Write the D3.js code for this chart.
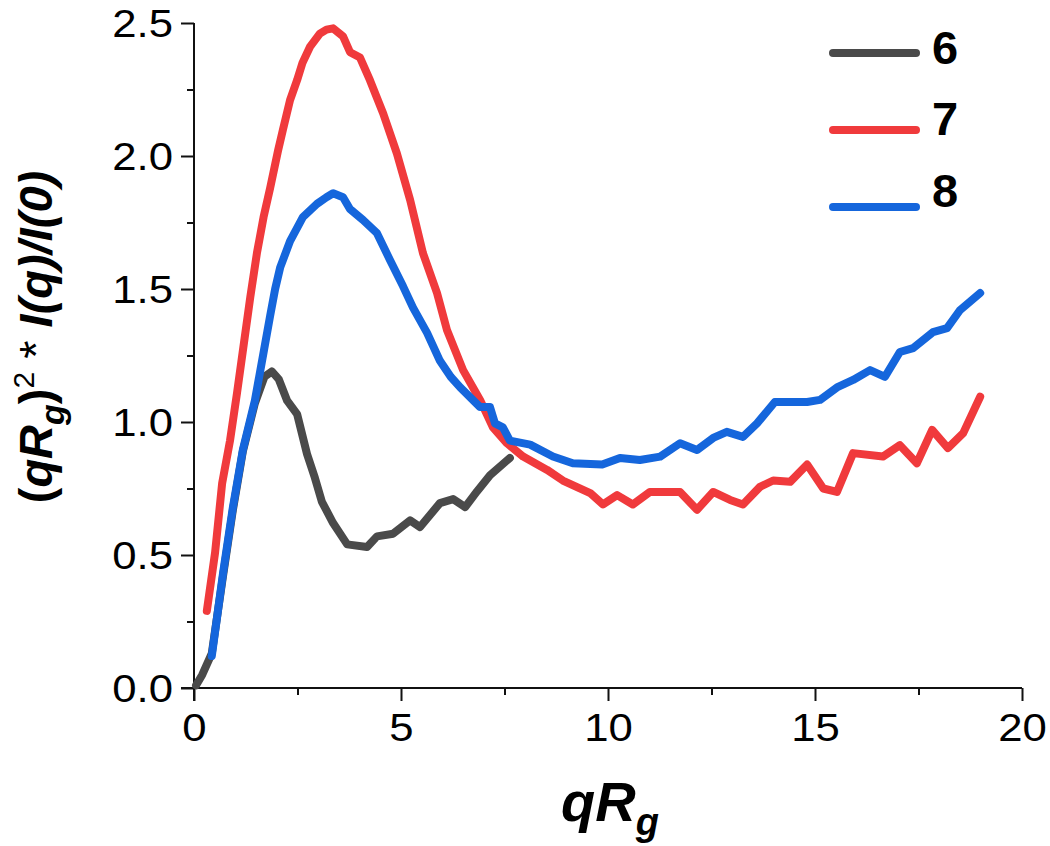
<!DOCTYPE html>
<html>
<head>
<meta charset="utf-8">
<script src="https://cdn.jsdelivr.net/npm/d3@7"></script>
<style>
  html, body { margin: 0; padding: 0; background: #fff; }
  svg { display: block; font-family: "Liberation Sans", Arial, sans-serif; }
</style>
</head>
<body>
<svg id="chart" width="1050" height="846"></svg>
<script>
// ---- data ----
const series6X = [0.05,0.2,0.43,0.7,0.94,1.18,1.47,1.7,1.88,2.05,2.25,2.49,2.73,2.92,3.09,3.36,3.7,4.18,4.42,4.81,5.22,5.46,5.94,6.26,6.55,6.84,7.15,7.63];
const series6Y = [0.01,0.05,0.13,0.42,0.67,0.89,1.07,1.17,1.19,1.16,1.08,1.03,0.88,0.79,0.7,0.62,0.54,0.53,0.57,0.58,0.63,0.605,0.695,0.71,0.68,0.74,0.8,0.865];

const series7X = [0.31,0.51,0.68,0.87,1.04,1.2,1.36,1.52,1.68,1.84,2.03,2.15,2.32,2.49,2.62,2.8,3.04,3.2,3.36,3.6,3.77,4.01,4.25,4.57,4.9,5.22,5.53,5.87,6.11,6.5,6.91,7.22,7.56,7.95,8.53,8.91,9.57,9.88,10.22,10.6,11.01,11.74,12.15,12.54,12.95,13.26,13.67,13.99,14.4,14.81,15.2,15.53,15.92,16.64,17.05,17.46,17.83,18.21,18.58,18.99];
const series7Y = [0.29,0.51,0.77,0.93,1.11,1.29,1.47,1.635,1.77,1.88,2.02,2.1,2.21,2.285,2.35,2.41,2.46,2.475,2.48,2.45,2.39,2.37,2.285,2.16,2.01,1.835,1.635,1.485,1.346,1.195,1.083,0.98,0.92,0.87,0.82,0.78,0.733,0.69,0.725,0.69,0.737,0.737,0.67,0.737,0.707,0.69,0.756,0.78,0.775,0.84,0.75,0.737,0.883,0.87,0.913,0.845,0.97,0.902,0.958,1.095];

const series8X = [0.43,0.7,0.94,1.18,1.47,1.69,1.84,1.96,2.08,2.32,2.63,2.97,3.2,3.36,3.6,3.77,4.08,4.42,4.73,5.05,5.29,5.63,5.94,6.2,6.43,6.91,7.15,7.27,7.46,7.63,8.12,8.67,9.15,9.86,10.29,10.77,11.26,11.74,12.15,12.54,12.87,13.26,13.6,14.03,14.81,15.12,15.53,15.92,16.33,16.69,17.05,17.37,17.85,18.19,18.5,18.99];
const series8Y = [0.12,0.43,0.68,0.895,1.08,1.27,1.4,1.5,1.58,1.68,1.77,1.82,1.845,1.86,1.845,1.8,1.76,1.71,1.61,1.51,1.43,1.335,1.23,1.17,1.13,1.056,1.056,0.995,0.98,0.93,0.915,0.87,0.845,0.84,0.865,0.857,0.87,0.92,0.895,0.94,0.963,0.944,0.995,1.075,1.075,1.083,1.13,1.158,1.195,1.17,1.263,1.278,1.338,1.353,1.42,1.485];

const seriesNames = ["6", "7", "8"];
const seriesColors = ["#4a4a4a", "#f03a3c", "#1566dc"];
const xTicks = [0, 5, 10, 15, 20];
const xMinorTicks = [2.5, 7.5, 12.5, 17.5];
const yTicks = [0, 0.5, 1.0, 1.5, 2.0, 2.5];
const yMinorTicks = [0.25, 0.75, 1.25, 1.75, 2.25];

// ---- layout ----
const svg = d3.select("#chart");
const x = d3.scaleLinear().domain([0, 20]).range([194, 1022]);
const y = d3.scaleLinear().domain([0, 2.5]).range([688, 23]);

const seriesData = [
  d3.zip(series6X, series6Y),
  d3.zip(series7X, series7Y),
  d3.zip(series8X, series8Y)
];

// axes
const xAxis = d3.axisBottom(x).tickValues(xTicks).tickSize(13).tickSizeOuter(0).tickPadding(10)
  .tickFormat(d3.format("d"));
const gx = svg.append("g").attr("transform", `translate(0,${y(0)})`).call(xAxis);
const yAxis = d3.axisLeft(y).tickValues(yTicks).tickSize(13).tickSizeOuter(0).tickPadding(8)
  .tickFormat(d3.format(".1f"));
const gy = svg.append("g").attr("transform", `translate(${x(0)},0)`).call(yAxis);

// minor ticks
svg.append("g").attr("transform", `translate(0,${y(0)})`)
  .call(d3.axisBottom(x).tickValues(xMinorTicks).tickSize(7).tickSizeOuter(0).tickFormat(""));
svg.append("g").attr("transform", `translate(${x(0)},0)`)
  .call(d3.axisLeft(y).tickValues(yMinorTicks).tickSize(7).tickSizeOuter(0).tickFormat(""));

svg.selectAll(".domain").remove();
svg.selectAll(".tick line").attr("stroke", "#111").attr("stroke-width", 2);

// axis lines, extended past the crossing as in the reference
svg.append("line").attr("x1", x(0) - 13).attr("x2", x(20)).attr("y1", y(0)).attr("y2", y(0))
  .attr("stroke", "#111").attr("stroke-width", 2);
svg.append("line").attr("x1", x(0)).attr("x2", x(0)).attr("y1", y(0) + 13).attr("y2", y(2.5))
  .attr("stroke", "#111").attr("stroke-width", 2);

gx.selectAll(".tick text")
  .attr("font-size", 38).attr("fill", "#000").attr("font-family", "Liberation Sans, Arial, sans-serif")
  .attr("y", null).attr("dy", null)
  .attr("transform", "translate(0,53) scale(1.15,1)");
gy.selectAll(".tick text")
  .attr("font-size", 38).attr("fill", "#000").attr("font-family", "Liberation Sans, Arial, sans-serif")
  .attr("x", null).attr("dy", null)
  .attr("transform", "translate(-21,13) scale(1.15,1)");

// lines
const line = d3.line().x(d => x(d[0])).y(d => y(d[1])).curve(d3.curveLinear);
svg.append("g").selectAll("path").data(seriesData).join("path")
  .attr("d", line)
  .attr("fill", "none")
  .attr("stroke", (d, i) => seriesColors[i])
  .attr("stroke-width", 8)
  .attr("stroke-linejoin", "round")
  .attr("stroke-linecap", "round");

// legend
const legendLineY = d3.scalePoint().domain(seriesNames).range([53, 207]);
const legendTextY = d3.scalePoint().domain(seriesNames).range([47, 190]);
const leg = svg.append("g");
seriesNames.forEach((name, i) => {
  leg.append("line").attr("x1", 833).attr("x2", 916)
    .attr("y1", legendLineY(name)).attr("y2", legendLineY(name))
    .attr("stroke", seriesColors[i]).attr("stroke-width", 8).attr("stroke-linecap", "round");
  leg.append("text").attr("x", 932).attr("y", legendTextY(name)).attr("dy", "0.36em")
    .attr("font-size", 47).attr("font-weight", "bold").attr("fill", "#000").text(name);
});

// x-axis label
const xl = svg.append("text").attr("x", 610).attr("y", 821).attr("text-anchor", "middle")
  .attr("font-size", 56).attr("font-weight", "bold").attr("font-style", "italic").attr("fill", "#000");
xl.append("tspan").text("qR");
xl.append("tspan").attr("font-size", 38).attr("dy", 14).text("g");

// y-axis label
const yl = svg.append("text").attr("transform", "translate(52,337) rotate(-90)").attr("text-anchor", "middle")
  .attr("font-size", 47).attr("font-weight", "bold").attr("fill", "#000");
yl.append("tspan").text("(");
yl.append("tspan").attr("font-style", "italic").text("qR");
yl.append("tspan").attr("font-style", "italic").attr("font-size", 34).attr("dy", 12).text("g");
yl.append("tspan").attr("dy", -12).text(")");
yl.append("tspan").attr("font-weight", "normal").attr("font-size", 30).attr("dy", -18).text("2");
yl.append("tspan").attr("font-weight", "normal").attr("dy", 18).text(" * ");
yl.append("tspan").attr("font-style", "italic").text("I(q)/I(0)");
</script>
</body>
</html>
